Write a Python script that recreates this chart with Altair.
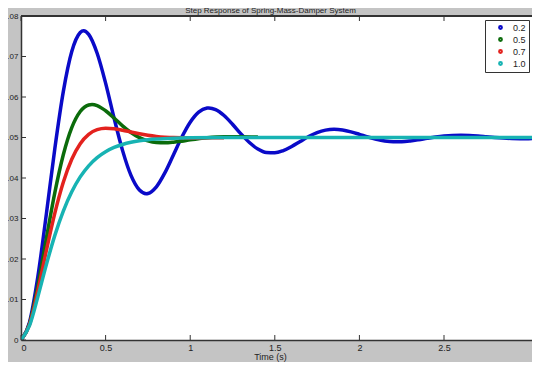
import altair as alt
import pandas as pd

chart_title = "Step Response of Spring-Mass-Damper System"
x_title = "Time (s)"
series_names = ["0.2", "0.5", "0.7", "1.0"]
series_colors = ["#0a0ac8", "#0b6b0b", "#e3221e", "#17b3b3"]
x_ticks = [0, 0.5, 1, 1.5, 2, 2.5]
y_ticks = [0, 0.01, 0.02, 0.03, 0.04, 0.05, 0.06, 0.07, 0.08]
x_max = 3.02
y_max = 0.08

# zeta = 0.2
t_02 = [0, 0.05, 0.1, 0.15, 0.2, 0.25, 0.3, 0.35, 0.37, 0.4, 0.45, 0.5, 0.55, 0.6,
        0.65, 0.7, 0.74, 0.75, 0.8, 0.85, 0.9, 0.95, 1.0, 1.05, 1.1, 1.11, 1.15, 1.2,
        1.25, 1.3, 1.35, 1.4, 1.45, 1.5, 1.55, 1.6, 1.65, 1.7, 1.75, 1.8, 1.85, 1.9,
        1.95, 2.0, 2.05, 2.1, 2.15, 2.2, 2.25, 2.3, 2.35, 2.4, 2.45, 2.5, 2.55, 2.6,
        2.65, 2.7, 2.75, 2.8, 2.85, 2.9, 2.95, 3.0, 3.05, 3.07]
y_02 = [0, 0.00436, 0.01576, 0.03114, 0.04729, 0.06132, 0.07122, 0.07592, 0.07637,
        0.07546, 0.07080, 0.06343, 0.05481, 0.04682, 0.04064, 0.03702, 0.03613, 0.03618,
        0.03782, 0.04126, 0.04563, 0.05005, 0.05376, 0.05625, 0.05727, 0.05731, 0.05690,
        0.05543, 0.05328, 0.05089, 0.04875, 0.04716, 0.04630, 0.04621, 0.04677, 0.04779,
        0.04902, 0.05023, 0.05120, 0.05182, 0.05203, 0.05186, 0.05140, 0.05078, 0.05012,
        0.04956, 0.04915, 0.04895, 0.04897, 0.04915, 0.04945, 0.04980, 0.05012, 0.05037,
        0.05052, 0.05056, 0.05050, 0.05036, 0.05018, 0.05000, 0.04985, 0.04975, 0.04971,
        0.04972, 0.04978, 0.04981]

# zeta = 0.5
t_05 = [0, 0.05, 0.1, 0.15, 0.2, 0.25, 0.3, 0.35, 0.4, 0.42, 0.45, 0.5, 0.55, 0.6,
        0.65, 0.7, 0.75, 0.8, 0.85, 0.9, 0.95, 1.0, 1.1, 1.2, 1.3, 1.4]
y_05 = [0, 0.00402, 0.01351, 0.02513, 0.03640, 0.04574, 0.05244, 0.05642, 0.05804,
        0.05815, 0.05788, 0.05660, 0.05481, 0.05288, 0.05122, 0.04996, 0.04915, 0.04875,
        0.04868, 0.04883, 0.04910, 0.04942, 0.04994, 0.05019, 0.05020, 0.05011]

# zeta = 0.7
t_07 = [0, 0.05, 0.1, 0.15, 0.2, 0.25, 0.3, 0.35, 0.4, 0.45, 0.5, 0.55, 0.6, 0.65,
        0.7, 0.75, 0.8, 0.85, 0.9, 1.0, 1.1, 1.2]
y_07 = [0, 0.00381, 0.01228, 0.02212, 0.03134, 0.03896, 0.04464, 0.04848, 0.05079,
        0.05194, 0.05229, 0.05217, 0.05181, 0.05136, 0.05092, 0.05056, 0.05028, 0.05009,
        0.04997, 0.04990, 0.04991, 0.04995]

# zeta = 1.0
t_10 = [0, 0.05, 0.1, 0.15, 0.2, 0.25, 0.3, 0.35, 0.4, 0.45, 0.5, 0.55, 0.6, 0.65,
        0.7, 0.75, 0.8, 0.9, 1.0, 1.2, 1.6, 2.2, 3.07]
y_10 = [0, 0.00353, 0.01076, 0.01864, 0.02583, 0.03184, 0.03661, 0.04027, 0.04301,
        0.04503, 0.04649, 0.04754, 0.04828, 0.04881, 0.04918, 0.04943, 0.04961, 0.04982,
        0.04992, 0.04998, 0.05, 0.05, 0.05]

frames = []
for name, ts, ys in zip(series_names, [t_02, t_05, t_07, t_10], [y_02, y_05, y_07, y_10]):
    frames.append(pd.DataFrame({"t": ts, "y": ys, "zeta": name}))
df = pd.concat(frames, ignore_index=True)

PAD_L, PAD_T, PAD_B = 13, 8, 22
W, H = 524 - PAD_L, 324
FONT = "Liberation Sans"
AX = "#333333"
TXT = "#222222"

x_scale = alt.Scale(domain=[0, x_max], nice=False, zero=False)
y_scale = alt.Scale(domain=[0, y_max], nice=False, zero=False)

x_axis = alt.Axis(values=x_ticks, format="~g", tickSize=0, domain=True, domainColor=AX,
                  domainWidth=1.5, grid=False,
                  labelFont=FONT, labelFontSize=9, labelColor=TXT, labelPadding=3,
                  title=x_title, titleFont=FONT, titleFontSize=9, titleFontWeight="normal",
                  titleColor=TXT, titleX=249, titleY=19, titleAlign="center",
                  titleBaseline="alphabetic")
y_axis = alt.Axis(values=y_ticks, format="~g", tickSize=0, domain=True, domainColor=AX,
                  domainWidth=1.5, grid=False,
                  labelFont=FONT, labelFontSize=8, labelColor=TXT, labelPadding=3,
                  title=None)

X = alt.X("t:Q", scale=x_scale, axis=x_axis)
Y = alt.Y("y:Q", scale=y_scale, axis=y_axis)

lines = alt.Chart(df).mark_line(strokeWidth=3.5, clip=True, interpolate="monotone").encode(
    x=X,
    y=Y,
    color=alt.Color("zeta:N", scale=alt.Scale(domain=series_names, range=series_colors),
                    legend=alt.Legend(title=None, orient="none", legendX=464, legendY=4,
                                      direction="vertical", fillColor="white", strokeColor=AX,
                                      padding=3, symbolType="circle", symbolSize=8,
                                      symbolStrokeWidth=2, symbolOffset=8, labelOffset=8,
                                      labelFont=FONT, labelFontSize=9, labelColor=TXT,
                                      rowPadding=1)),
    order=alt.Order("t:Q"),
    detail="zeta:N",
)

xt = pd.DataFrame({"t": x_ticks})
yt = pd.DataFrame({"y": y_ticks})

bottom_ticks = alt.Chart(xt).mark_rule(color=AX, strokeWidth=1).encode(
    x=X, y=alt.value(H), y2=alt.value(H - 5))
top_ticks = alt.Chart(xt).mark_rule(color=AX, strokeWidth=1).encode(
    x=X, y=alt.value(0), y2=alt.value(5))
left_ticks = alt.Chart(yt).mark_rule(color=AX, strokeWidth=1).encode(
    y=Y, x=alt.value(0), x2=alt.value(5))
top_border = alt.Chart(xt).mark_rule(color=AX, strokeWidth=1.5).encode(
    x=alt.value(0), x2=alt.value(W), y=alt.value(0))

chart = alt.layer(lines, bottom_ticks, top_ticks, left_ticks, top_border).properties(
    width=W, height=H,
    autosize=alt.AutoSizeParams(type="none"),
    padding={"left": PAD_L, "top": PAD_T, "right": 0, "bottom": PAD_B},
    title=alt.TitleParams(chart_title, font=FONT, fontSize=8, fontWeight="normal",
                          color=TXT, anchor="middle", frame="group", offset=1, dx=-6, dy=4),
).configure(background="#c4c4c4").configure_view(
    fill="white", strokeWidth=0
)

chart.save("out.html", embed_options={"renderer": "svg", "actions": False})
